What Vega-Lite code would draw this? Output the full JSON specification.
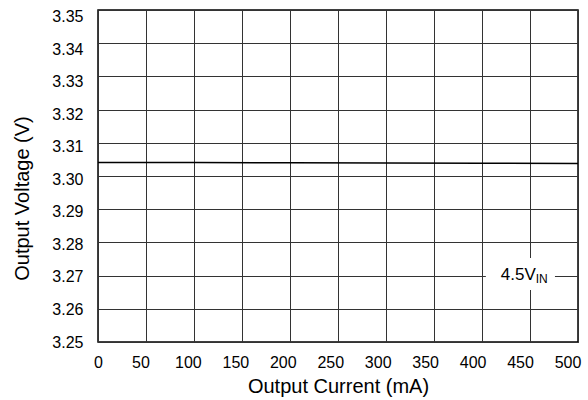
{
  "$schema": "https://vega.github.io/schema/vega-lite/v6.json",
  "autosize": "none",
  "width": 480,
  "height": 332,
  "padding": {"left": 98, "top": 10, "right": 10, "bottom": 58},
  "background": "white",
  "config": {
    "font": "Liberation Sans",
    "view": {"stroke": "black", "strokeWidth": 1.5},
    "axis": {
      "domain": false,
      "ticks": false,
      "grid": true,
      "gridColor": "#333333",
      "gridWidth": 1,
      "gridOpacity": 1,
      "labelFont": "Liberation Sans",
      "labelFontSize": 16,
      "labelColor": "black",
      "labelOverlap": false,
      "labelBound": false,
      "labelFlush": false,
      "titleFont": "Liberation Sans",
      "titleFontSize": 20,
      "titleFontWeight": "normal",
      "titleColor": "black"
    }
  },
  "datasets": {
    "curve": [
      {"current": 0, "voltage": 3.3041},
      {"current": 100, "voltage": 3.30405},
      {"current": 200, "voltage": 3.3040},
      {"current": 300, "voltage": 3.3039},
      {"current": 400, "voltage": 3.30385},
      {"current": 500, "voltage": 3.3038}
    ],
    "label": [
      {"x1": 404, "x2": 476, "y1": 3.2657, "y2": 3.2753, "xt": 456, "yt": 3.2702, "main": "4.5V", "sub": "IN"}
    ]
  },
  "layer": [
    {
      "data": {"name": "curve"},
      "mark": {"type": "line", "color": "black", "strokeWidth": 1.5},
      "encoding": {
        "x": {
          "field": "current", "type": "quantitative",
          "scale": {"domain": [0, 500], "nice": false},
          "axis": {"values": [0, 50, 100, 150, 200, 250, 300, 350, 400, 450, 500], "tickCount": 20, "title": "Output Current (mA)", "labelPadding": 12, "titlePadding": 6,
            "labelOffset": {"expr": "datum.value == 0 ? 0 : -5 - datum.value * 0.011"}}
        },
        "y": {
          "field": "voltage", "type": "quantitative",
          "scale": {"domain": [3.25, 3.35], "nice": false, "zero": false},
          "axis": {"values": [3.25, 3.26, 3.27, 3.28, 3.29, 3.30, 3.31, 3.32, 3.33, 3.34, 3.35], "tickCount": 20, "format": ".2f", "title": "Output Voltage (V)", "labelPadding": 15, "titlePadding": 19, "titleY": 188,
            "labelOffset": {"expr": "(datum.value - 3.25) * 67"}}
        }
      }
    },
    {
      "data": {"name": "label"},
      "mark": {"type": "rect", "color": "white"},
      "encoding": {
        "x": {"field": "x1", "type": "quantitative"},
        "x2": {"field": "x2"},
        "y": {"field": "y1", "type": "quantitative"},
        "y2": {"field": "y2"}
      }
    },
    {
      "data": {"name": "label"},
      "mark": {"type": "text", "align": "right", "baseline": "middle", "fontSize": 17, "color": "black"},
      "encoding": {
        "x": {"field": "xt", "type": "quantitative"},
        "y": {"field": "yt", "type": "quantitative"},
        "text": {"field": "main"}
      }
    },
    {
      "data": {"name": "label"},
      "mark": {"type": "text", "align": "left", "baseline": "middle", "fontSize": 12, "dy": 4, "color": "black"},
      "encoding": {
        "x": {"field": "xt", "type": "quantitative"},
        "y": {"field": "yt", "type": "quantitative"},
        "text": {"field": "sub"}
      }
    }
  ]
}
